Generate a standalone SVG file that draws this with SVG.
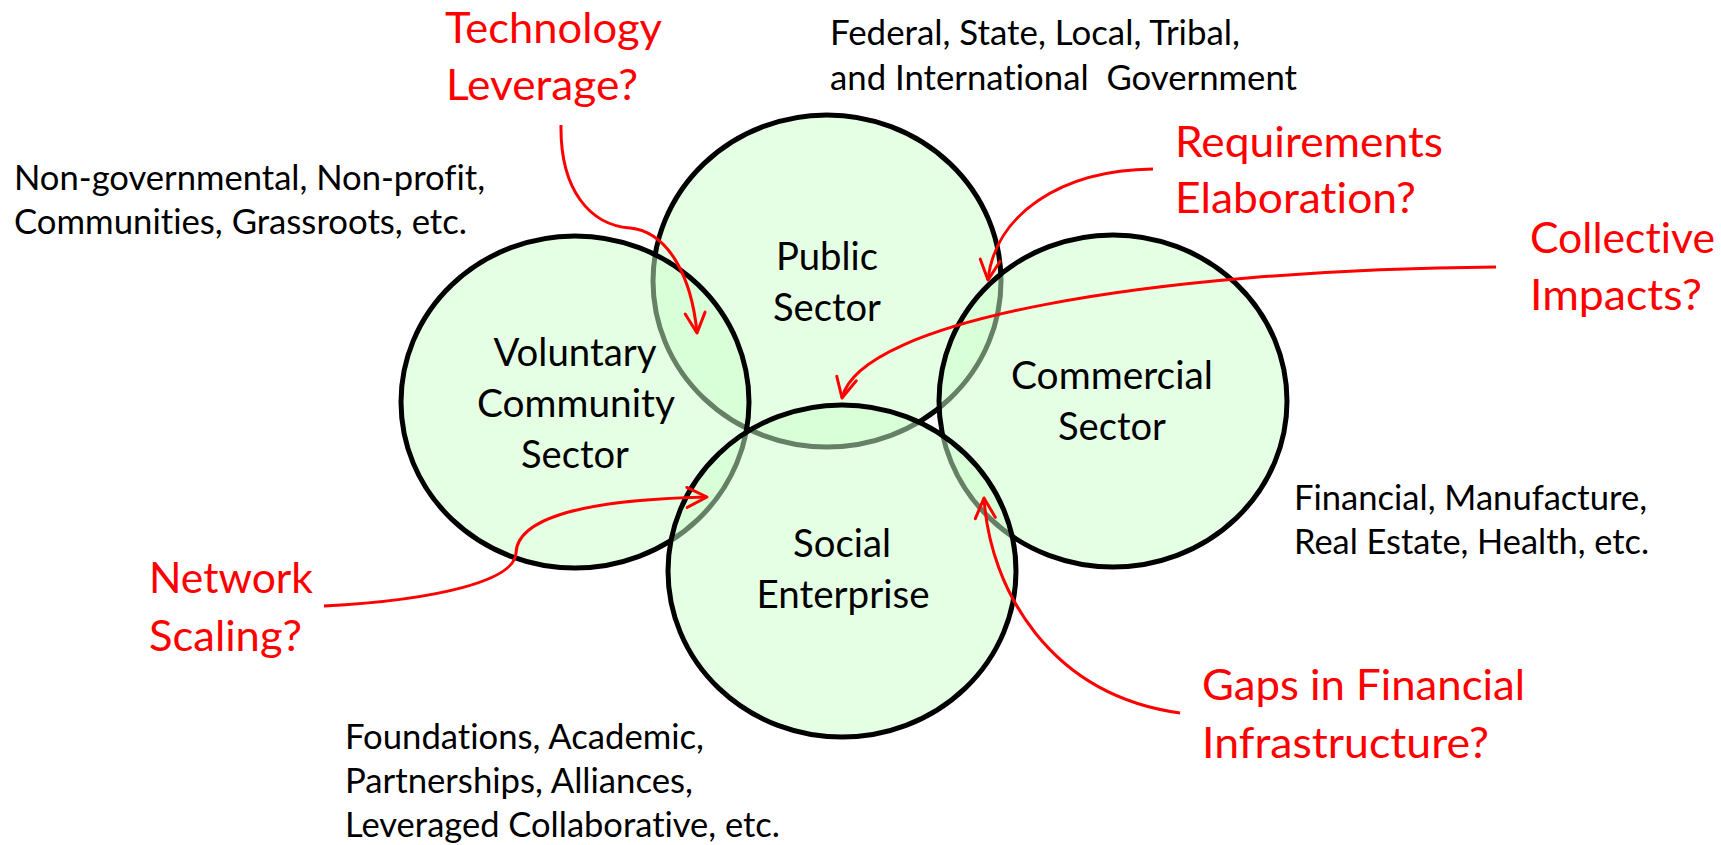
<svg xmlns="http://www.w3.org/2000/svg" width="1721" height="845" viewBox="0 0 1721 845">
<defs>
<style>
.sector{fill:#ccffcc;fill-opacity:0.5;stroke:#000;stroke-width:5}
text{font-variant-ligatures:none;font-family:Lato,"Liberation Sans",sans-serif}
.lbl{font-size:39px;fill:#000;text-anchor:middle}
.note{font-size:34px;fill:#000}
.q{font-size:43px;fill:#ff0000}
.conn{fill:none;stroke:#ff0000;stroke-width:3}
</style>
<marker id="arr" viewBox="-3 -3 26 26" refX="20" refY="10" markerWidth="26" markerHeight="26" markerUnits="userSpaceOnUse" orient="auto">
<path d="M0,0 L20,10 L0,20" fill="none" stroke="#ff0000" stroke-width="3" stroke-linejoin="round" stroke-linecap="round"/>
</marker>
</defs>
<rect width="1721" height="845" fill="#fff"/>

<g id="public-sector">
<ellipse class="sector" cx="827" cy="281" rx="174" ry="166"/>
<text class="lbl" x="827" y="270" textLength="102" lengthAdjust="spacingAndGlyphs">Public</text>
<text class="lbl" x="827" y="321" textLength="108" lengthAdjust="spacingAndGlyphs">Sector</text>
</g>
<g id="voluntary-community-sector">
<ellipse class="sector" cx="575" cy="402" rx="174" ry="166"/>
<text class="lbl" x="575" y="366" textLength="163" lengthAdjust="spacingAndGlyphs">Voluntary</text>
<text class="lbl" x="576" y="417" textLength="198" lengthAdjust="spacingAndGlyphs">Community</text>
<text class="lbl" x="575" y="468" textLength="108" lengthAdjust="spacingAndGlyphs">Sector</text>
</g>
<g id="commercial-sector">
<ellipse class="sector" cx="1113" cy="401" rx="174" ry="166"/>
<text class="lbl" x="1112" y="389" textLength="202" lengthAdjust="spacingAndGlyphs">Commercial</text>
<text class="lbl" x="1112" y="440" textLength="108" lengthAdjust="spacingAndGlyphs">Sector</text>
</g>
<g id="social-enterprise">
<ellipse class="sector" cx="842" cy="571" rx="174" ry="166"/>
<text class="lbl" x="842" y="557" textLength="98" lengthAdjust="spacingAndGlyphs">Social</text>
<text class="lbl" x="843" y="608" textLength="173" lengthAdjust="spacingAndGlyphs">Enterprise</text>
</g>

<g id="note-public">
<text class="note" x="830" y="45" textLength="410" lengthAdjust="spacingAndGlyphs">Federal, State, Local, Tribal,</text>
<text class="note" x="830" y="90" textLength="467" lengthAdjust="spacingAndGlyphs" xml:space="preserve">and International  Government</text>
</g>
<g id="note-voluntary">
<text class="note" x="14" y="190" textLength="471" lengthAdjust="spacingAndGlyphs">Non-governmental, Non-profit,</text>
<text class="note" x="14" y="234" textLength="453" lengthAdjust="spacingAndGlyphs">Communities, Grassroots, etc.</text>
</g>
<g id="note-commercial">
<text class="note" x="1294" y="510" textLength="353" lengthAdjust="spacingAndGlyphs">Financial, Manufacture,</text>
<text class="note" x="1294" y="554" textLength="355" lengthAdjust="spacingAndGlyphs">Real Estate, Health, etc.</text>
</g>
<g id="note-social">
<text class="note" x="345" y="749" textLength="359" lengthAdjust="spacingAndGlyphs">Foundations, Academic,</text>
<text class="note" x="345" y="793" textLength="348" lengthAdjust="spacingAndGlyphs">Partnerships, Alliances,</text>
<text class="note" x="345" y="837" textLength="435" lengthAdjust="spacingAndGlyphs">Leveraged Collaborative, etc.</text>
</g>

<g id="q-technology">
<text class="q" x="445" y="43" textLength="217" lengthAdjust="spacingAndGlyphs">Technology</text>
<text class="q" x="446" y="100" textLength="192" lengthAdjust="spacingAndGlyphs">Leverage?</text>
</g>
<g id="q-requirements">
<text class="q" x="1175" y="157" textLength="268" lengthAdjust="spacingAndGlyphs">Requirements</text>
<text class="q" x="1175" y="213" textLength="241" lengthAdjust="spacingAndGlyphs">Elaboration?</text>
</g>
<g id="q-collective">
<text class="q" x="1530" y="253" textLength="185" lengthAdjust="spacingAndGlyphs">Collective</text>
<text class="q" x="1530" y="310" textLength="172" lengthAdjust="spacingAndGlyphs">Impacts?</text>
</g>
<g id="q-network">
<text class="q" x="149" y="593" textLength="164" lengthAdjust="spacingAndGlyphs">Network</text>
<text class="q" x="149" y="651" textLength="153" lengthAdjust="spacingAndGlyphs">Scaling?</text>
</g>
<g id="q-gaps">
<text class="q" x="1202" y="700" textLength="323" lengthAdjust="spacingAndGlyphs">Gaps in Financial</text>
<text class="q" x="1202" y="758" textLength="287" lengthAdjust="spacingAndGlyphs">Infrastructure?</text>
</g>

<g id="connectors">
<path class="conn" marker-end="url(#arr)" d="M561,125 C560,190 590,225 630,228 C670,232 692,280 697,333"/>
<path class="conn" marker-end="url(#arr)" d="M1153,169 C1060,170 995,215 988,280"/>
<path class="conn" marker-end="url(#arr)" d="M1496,267 C1150,270 860,320 842,398"/>
<path class="conn" marker-end="url(#arr)" d="M324,606 C440,600 515,580 516,553 C517,522 570,500 707,497"/>
<path class="conn" marker-end="url(#arr)" d="M1180,713 C1050,695 990,590 984,498"/>
</g>
</svg>
